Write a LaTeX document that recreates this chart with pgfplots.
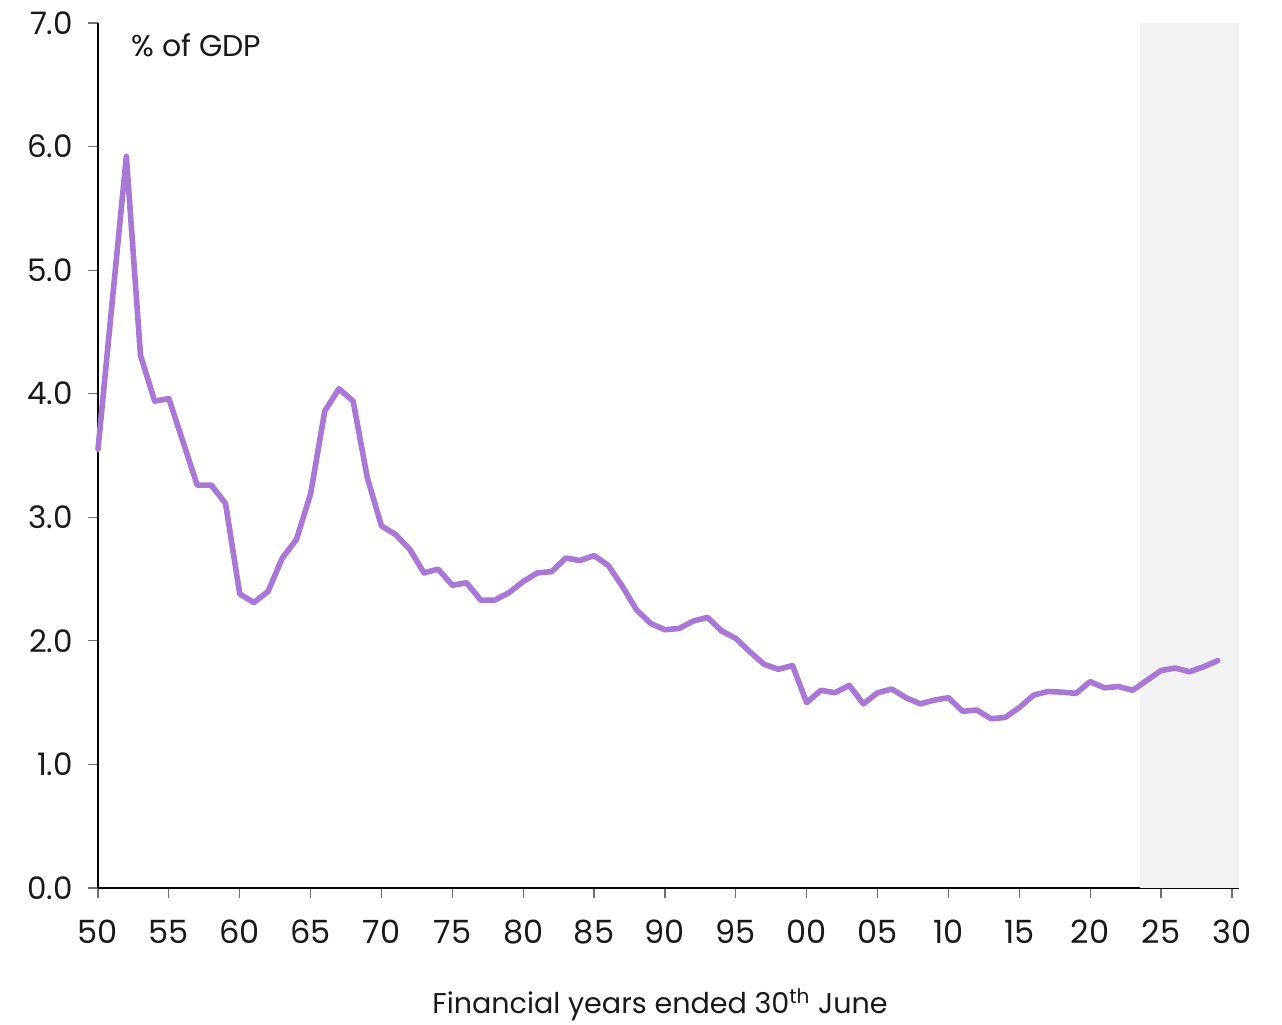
\documentclass[border=0pt]{standalone}
\usepackage{fontspec}
\setmainfont{Poppins}
\usepackage{pgfplots}
\pgfplotsset{compat=1.18}
\definecolor{lineviolet}{HTML}{A977D6}
\definecolor{shade}{HTML}{F2F2F2}
\definecolor{tickgrey}{HTML}{707070}

\begin{document}
\begin{tikzpicture}
\begin{axis}[
  scale only axis,
  width=570.5pt, height=432.5pt,
  xmin=1950, xmax=2030.5,
  ymin=0, ymax=7,
  axis x line*=bottom, axis y line*=left,
  axis line style={black, line width=0.6pt},
  xtick={1950,1955,...,2030},
  xticklabels={50,55,60,65,70,75,80,85,90,95,00,05,10,15,20,25,30},
  ytick={0,1,...,7},
  y tick label style={/pgf/number format/fixed, /pgf/number format/fixed zerofill, /pgf/number format/precision=1},
  /pgf/number format/assume math mode=true,
  tick align=outside,
  major tick length=5pt,
  tick style={tickgrey, line width=0.6pt},
  ticklabel style={font=\fontsize{15.5}{18}\selectfont, text=black!90},
  xticklabel style={yshift=-7.5pt, font=\fontsize{16}{18}\selectfont},
  yticklabel style={xshift=-4pt},
  clip=false,
]
% forecast period shading
\addplot[draw=none, fill=shade, forget plot] coordinates {(2023.5,0) (2030.5,0) (2030.5,7) (2023.5,7)} -- cycle;

\addplot[lineviolet, line width=2.8pt, line join=round, line cap=round] coordinates {
(1950,3.55) (1951,4.74) (1952,5.92) (1953,4.31) (1954,3.94) (1955,3.96)
(1956,3.61) (1957,3.26) (1958,3.26) (1959,3.11) (1960,2.38) (1961,2.31)
(1962,2.40) (1963,2.67) (1964,2.82) (1965,3.19) (1966,3.86) (1967,4.04)
(1968,3.94) (1969,3.32) (1970,2.93) (1971,2.86) (1972,2.74) (1973,2.55)
(1974,2.58) (1975,2.45) (1976,2.47) (1977,2.33) (1978,2.33) (1979,2.39)
(1980,2.48) (1981,2.55) (1982,2.56) (1983,2.67) (1984,2.65) (1985,2.69)
(1986,2.61) (1987,2.44) (1988,2.25) (1989,2.14) (1990,2.09) (1991,2.10)
(1992,2.16) (1993,2.19) (1994,2.08) (1995,2.02) (1996,1.91) (1997,1.81)
(1998,1.77) (1999,1.80) (2000,1.50) (2001,1.60) (2002,1.58) (2003,1.64)
(2004,1.49) (2005,1.58) (2006,1.61) (2007,1.54) (2008,1.49) (2009,1.52)
(2010,1.54) (2011,1.43) (2012,1.44) (2013,1.37) (2014,1.38) (2015,1.46)
(2016,1.56) (2017,1.59) (2018,1.585) (2019,1.575) (2020,1.67) (2021,1.62)
(2022,1.63) (2023,1.60) (2024,1.68) (2025,1.76) (2026,1.78) (2027,1.75)
(2028,1.79) (2029,1.84)
};

\node[anchor=north west, inner sep=0pt, font=\fontsize{15}{18}\selectfont, text=black!90]
  at ([shift={(16.5pt,-5pt)}]rel axis cs:0,1) {\% of GDP};
\end{axis}
\node[anchor=base, inner sep=0pt, font=\fontsize{14.3}{17}\selectfont, text=black!90]
  at ([shift={(281pt,-63pt)}]current axis.south west) {Financial years ended 30\textsuperscript{th} June};
\pgfresetboundingbox
\useasboundingbox ([shift={(-49pt,-68.5pt)}]current axis.south west) rectangle ([shift={(21.5pt,11.5pt)}]current axis.north east);
\end{tikzpicture}
\end{document}
